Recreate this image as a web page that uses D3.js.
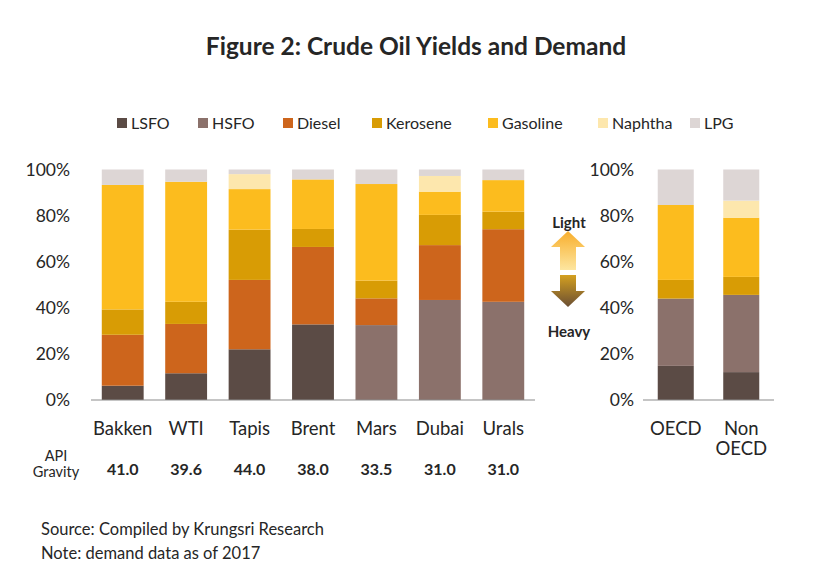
<!DOCTYPE html>
<html>
<head>
<meta charset="utf-8">
<script src="https://cdn.jsdelivr.net/npm/d3@7"></script>
<style>
  body { margin: 0; background: #fff; }
  text { font-family: Lato, "Open Sans", sans-serif; fill: #262626; }
</style>
</head>
<body>
<div id="chart"></div>
<script>
//crude yields (% of barrel)
var crudes = ["Bakken", "WTI", "Tapis", "Brent", "Mars", "Dubai", "Urals"];
var apiGravity = ["41.0", "39.6", "44.0", "38.0", "33.5", "31.0", "31.0"];
var products = ["LSFO", "HSFO", "Diesel", "Kerosene", "Gasoline", "Naphtha", "LPG"];

var yieldLSFO     = [6.2, 11.6, 22.0, 32.8, 0, 0, 0];
var yieldHSFO     = [0, 0, 0, 0, 32.5, 43.4, 42.6];
var yieldDiesel   = [22.1, 21.4, 30.1, 33.6, 11.6, 23.8, 31.5];
var yieldKerosene = [11.0, 9.6, 21.8, 7.8, 7.7, 13.1, 7.6];
var yieldGasoline = [54.0, 52.1, 17.6, 21.5, 41.9, 10.1, 13.7];
var yieldNaphtha  = [0, 0, 6.5, 0, 0, 6.8, 0];
var yieldLPG      = [6.7, 5.3, 2.0, 4.3, 6.3, 2.8, 4.6];

//demand (2017)
var regions = ["OECD", "Non OECD"];
var demandLSFO     = [14.8, 12.1];
var demandHSFO     = [29.2, 33.5];
var demandDiesel   = [0, 0];
var demandKerosene = [8.1, 7.8];
var demandGasoline = [32.5, 25.7];
var demandNaphtha  = [0, 7.4];
var demandLPG      = [15.4, 13.5];

var yTicks = [0, 20, 40, 60, 80, 100];
var colors = ["#5b4b45", "#8b716b", "#cd651c", "#d89c05", "#fcbc1e", "#fde7ad", "#ddd6d5"];

var W = 840, H = 585;
var svg = d3.select("#chart").append("svg").attr("width", W).attr("height", H);

//build rows for d3.stack
function makeRows(names, cols) {
  return names.map(function(n, i) {
    var row = {name: n};
    products.forEach(function(p, j) { row[p] = cols[j][i]; });
    return row;
  });
}
var yieldRows = makeRows(crudes, [yieldLSFO, yieldHSFO, yieldDiesel, yieldKerosene, yieldGasoline, yieldNaphtha, yieldLPG]);
var demandRows = makeRows(regions, [demandLSFO, demandHSFO, demandDiesel, demandKerosene, demandGasoline, demandNaphtha, demandLPG]);

var stack = d3.stack().keys(products);
var color = d3.scaleOrdinal().domain(products).range(colors);
var y = d3.scaleLinear().domain([0, 100]).range([400, 169.5]);

function drawPanel(rows, x0, x1, pad, labelPad) {
  var x = d3.scaleBand().domain(rows.map(function(d) { return d.name; }))
    .range([x0, x1]).paddingInner(pad).paddingOuter(pad / 2);
  var g = svg.append("g");

  g.selectAll("g.layer")
    .data(stack(rows))
    .enter().append("g")
    .attr("class", "layer")
    .attr("fill", function(d) { return color(d.key); })
    .selectAll("rect")
    .data(function(d) { return d; })
    .enter().append("rect")
    .attr("x", function(d) { return x(d.data.name); })
    .attr("width", x.bandwidth())
    .attr("y", function(d) { return y(d[1]); })
    .attr("height", function(d) { return y(d[0]) - y(d[1]); });

  //y axis (labels only)
  var ya = g.append("g").attr("transform", "translate(" + x0 + ",0)")
    .call(d3.axisLeft(y).tickValues(yTicks).tickSize(0).tickPadding(labelPad)
      .tickFormat(function(d) { return d + "%"; }));
  ya.select(".domain").remove();
  ya.selectAll("text").attr("font-size", 17.5).attr("font-family", null).attr("fill", "#262626");

  //baseline
  g.append("line").attr("x1", x0).attr("x2", x1).attr("y1", y(0)).attr("y2", y(0))
    .attr("stroke", "#8c8c8c").attr("stroke-width", 1.2);

  //category labels
  g.selectAll("text.cat")
    .data(rows)
    .enter().append("text")
    .attr("class", "cat")
    .attr("text-anchor", "middle")
    .attr("font-size", 18.5)
    .attr("x", function(d) { return x(d.name) + x.bandwidth() / 2; })
    .attr("y", 435)
    .selectAll("tspan")
    .data(function(d) { return d.name.split(" "); })
    .enter().append("tspan")
    .attr("x", function() { var n = this.parentNode.__data__.name; return x(n) + x.bandwidth() / 2; })
    .attr("dy", function(d, i) { return i ? 20 : 0; })
    .text(function(d) { return d; });

  return x;
}

var xL = drawPanel(yieldRows, 91, 535, 0.34, 21);
var xR = drawPanel(demandRows, 643, 774, 0.45, 9);

//API gravity row
svg.append("text").attr("x", 56).attr("y", 461).attr("text-anchor", "middle")
  .attr("font-size", 14.5).text("API");
svg.append("text").attr("x", 56).attr("y", 477).attr("text-anchor", "middle")
  .attr("font-size", 14.5).text("Gravity");
svg.selectAll("text.api")
  .data(apiGravity)
  .enter().append("text")
  .attr("class", "api")
  .attr("text-anchor", "middle")
  .attr("font-size", 16)
  .attr("font-weight", "bold")
  .attr("x", function(d, i) { return xL(crudes[i]) + xL.bandwidth() / 2; })
  .attr("y", 475)
  .text(function(d) { return d; });

//title
svg.append("text").attr("x", 416).attr("y", 55).attr("text-anchor", "middle")
  .attr("font-size", 24.5).attr("font-weight", "bold").attr("fill", "#333")
  .text("Figure 2: Crude Oil Yields and Demand");

//legend
var legendX = [117, 198, 283, 372, 488, 598, 690];
var lg = svg.append("g").selectAll("g")
  .data(products)
  .enter().append("g")
  .attr("transform", function(d, i) { return "translate(" + legendX[i] + ",118)"; });
lg.append("rect").attr("width", 10).attr("height", 10)
  .attr("fill", function(d) { return color(d); });
lg.append("text").attr("x", 14).attr("y", 10.5).attr("font-size", 16)
  .text(function(d) { return d; });

//light / heavy arrows
var defs = svg.append("defs");
var gUp = defs.append("linearGradient").attr("id", "gUp").attr("x1", 0).attr("y1", 0).attr("x2", 0).attr("y2", 1);
gUp.append("stop").attr("offset", "0%").attr("stop-color", "#f8ae2c");
gUp.append("stop").attr("offset", "100%").attr("stop-color", "#fde6a0");
var gDn = defs.append("linearGradient").attr("id", "gDn").attr("x1", 0).attr("y1", 0).attr("x2", 0).attr("y2", 1);
gDn.append("stop").attr("offset", "0%").attr("stop-color", "#d4a020");
gDn.append("stop").attr("offset", "100%").attr("stop-color", "#6a4e33");

var ax = 568;
svg.append("path").attr("fill", "url(#gUp)")
  .attr("d", "M" + ax + ",231 L" + (ax + 17) + ",247 L" + (ax + 8) + ",247 L" + (ax + 8) + ",270 L" + (ax - 8) + ",270 L" + (ax - 8) + ",247 L" + (ax - 17) + ",247 Z");
svg.append("path").attr("fill", "url(#gDn)")
  .attr("d", "M" + (ax - 8) + ",275 L" + (ax + 8) + ",275 L" + (ax + 8) + ",291 L" + (ax + 17) + ",291 L" + ax + ",307 L" + (ax - 17) + ",291 L" + (ax - 8) + ",291 Z");
svg.append("text").attr("x", ax + 1).attr("y", 228).attr("text-anchor", "middle")
  .attr("font-size", 15).attr("font-weight", "bold").attr("fill", "#595959").text("Light");
svg.append("text").attr("x", ax + 1).attr("y", 337).attr("text-anchor", "middle")
  .attr("font-size", 15).attr("font-weight", "bold").attr("fill", "#595959").text("Heavy");

//notes
svg.append("text").attr("x", 41).attr("y", 535).attr("font-size", 16.5).attr("fill", "#404040")
  .text("Source: Compiled by Krungsri Research");
svg.append("text").attr("x", 41).attr("y", 559).attr("font-size", 16.5).attr("fill", "#404040")
  .text("Note: demand data as of 2017");
</script>
</body>
</html>
